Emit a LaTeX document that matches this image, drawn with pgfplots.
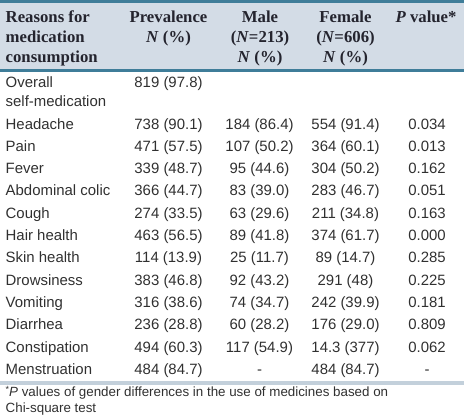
\documentclass[border=0pt]{standalone}
\usepackage{pgfplots}
\pgfplotsset{compat=1.18}
\usepackage{fontspec}
\setmainfont{Liberation Serif}
\newfontfamily\sansf{Liberation Sans}
\definecolor{hdrbg}{HTML}{D3DCE6}
\definecolor{rulec}{HTML}{3F7D99}
\definecolor{botrule}{HTML}{C3D0DB}
\definecolor{hdrtxt}{HTML}{24242E}
\definecolor{bodytxt}{HTML}{303030}
\tikzset{
  hd/.style={inner sep=0pt, text=hdrtxt, font=\fontsize{16.8}{20}\selectfont\bfseries},
  bd/.style={inner sep=0pt, text=bodytxt, font=\sansf\fontsize{15}{18}\selectfont},
  ft/.style={inner sep=0pt, text=bodytxt, font=\sansf\fontsize{13.4}{16}\selectfont},
}
\newcommand\row[6]{%
  \node[bd, anchor=base west] at (axis cs:5.5,#1) {#2};
  \node[bd, anchor=base] at (axis cs:168.5,#1) {#3};
  \node[bd, anchor=base] at (axis cs:259.5,#1) {#4};
  \node[bd, anchor=base] at (axis cs:345.5,#1) {#5};
  \node[bd, anchor=base] at (axis cs:427,#1) {#6};
}
\begin{document}
\begin{tikzpicture}
\begin{axis}[scale only axis, width=464bp, height=420bp,
  xmin=0, xmax=464, ymin=0, ymax=420, y dir=reverse,
  hide axis, clip=false]
% header band and rules
\fill[hdrbg] (axis cs:0,0) rectangle (axis cs:464,70);
\fill[rulec] (axis cs:0,0) rectangle (axis cs:464,2.5);
\fill[rulec] (axis cs:0,69.3) rectangle (axis cs:464,72);
\fill[botrule] (axis cs:0,380.5) rectangle (axis cs:464,385);
% header text
\node[hd, anchor=base west] at (axis cs:5.5,22.7) {Reasons for};
\node[hd, anchor=base west] at (axis cs:5.5,42.7) {medication};
\node[hd, anchor=base west] at (axis cs:5.5,62.7) {consumption};
\node[hd, anchor=base] at (axis cs:168.5,22.7) {Prevalence};
\node[hd, anchor=base] at (axis cs:168.5,42.7) {\textit{N} (\%)};
\node[hd, anchor=base] at (axis cs:260,22.7) {Male};
\node[hd, anchor=base] at (axis cs:260,42.7) {(\textit{N}=213)};
\node[hd, anchor=base] at (axis cs:260,62.7) {\textit{N} (\%)};
\node[hd, anchor=base] at (axis cs:345.5,22.7) {Female};
\node[hd, anchor=base] at (axis cs:345.5,42.7) {(\textit{N}=606)};
\node[hd, anchor=base] at (axis cs:345.5,62.7) {\textit{N} (\%)};
\node[hd, anchor=base] at (axis cs:426,22.7) {\textit{P} value*};
% body
\node[bd, anchor=base west] at (axis cs:5.5,87.3) {Overall};
\node[bd, anchor=base west] at (axis cs:5.5,106.7) {self-medication};
\node[bd, anchor=base] at (axis cs:168.5,87.3) {819 (97.8)};
\row{129.3}{Headache}{738 (90.1)}{184 (86.4)}{554 (91.4)}{0.034}
\row{151.3}{Pain}{471 (57.5)}{107 (50.2)}{364 (60.1)}{0.013}
\row{173.3}{Fever}{339 (48.7)}{95 (44.6)}{304 (50.2)}{0.162}
\row{195.5}{Abdominal colic}{366 (44.7)}{83 (39.0)}{283 (46.7)}{0.051}
\row{218.0}{Cough}{274 (33.5)}{63 (29.6)}{211 (34.8)}{0.163}
\row{240.0}{Hair health}{463 (56.5)}{89 (41.8)}{374 (61.7)}{0.000}
\row{262.0}{Skin health}{114 (13.9)}{25 (11.7)}{89 (14.7)}{0.285}
\row{285.0}{Drowsiness}{383 (46.8)}{92 (43.2)}{291 (48)}{0.225}
\row{307.3}{Vomiting}{316 (38.6)}{74 (34.7)}{242 (39.9)}{0.181}
\row{329.5}{Diarrhea}{236 (28.8)}{60 (28.2)}{176 (29.0)}{0.809}
\row{352.0}{Constipation}{494 (60.3)}{117 (54.9)}{14.3 (377)}{0.062}
\row{374.3}{Menstruation}{484 (84.7)}{-}{484 (84.7)}{-}
% footnote
\node[ft, anchor=base west] at (axis cs:5.5,396.7) {\raisebox{0.35em}{\fontsize{9}{9}\selectfont *}\textit{P} values of gender differences in the use of medicines based on};
\node[ft, anchor=base west] at (axis cs:5.5,412.5) {Chi-square test};
\end{axis}
\end{tikzpicture}
\end{document}
